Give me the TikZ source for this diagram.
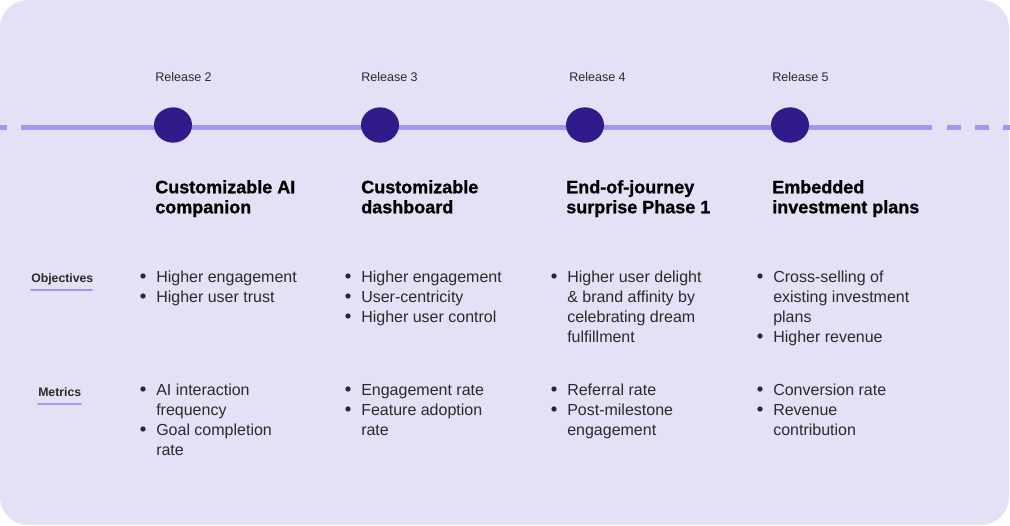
\documentclass[tikz,border=0pt]{standalone}
\usepackage{fontspec}
\setmainfont{Liberation Sans}
\newfontfamily\heavyfont{Liberation Sans Bold}[FakeBold=1]
\usetikzlibrary{shapes.geometric}
\definecolor{bg}{HTML}{E4E1F7}
\definecolor{tl}{HTML}{A596F4}
\definecolor{dotc}{HTML}{311B8A}
\definecolor{txt}{HTML}{2A2A2A}
\begin{document}
\begin{tikzpicture}[x=0.75pt,y=-0.75pt,
  rel/.style={anchor=base west,inner sep=0,font=\fontsize{9.4}{11}\selectfont,text=txt},
  ttl/.style={anchor=north west,inner sep=0,align=left,font=\heavyfont\fontsize{13.5}{15}\selectfont,text=black},
  itm/.style={anchor=north west,inner sep=0,align=left,font=\fontsize{12}{15}\selectfont,text=txt},
  lbl/.style={anchor=base west,inner sep=0,font=\fontsize{9.2}{11}\selectfont\bfseries,text=txt},
  ms/.style={ellipse,fill=dotc,minimum width=28.5pt,minimum height=26.5pt,inner sep=0},
  tline/.style={draw=tl,line width=3.75pt},
  uline/.style={draw=tl,line width=1.5pt,line cap=round},
  bul/.style={fill=txt}]
\useasboundingbox (0,0) rectangle (1010,525);
\fill[bg,rounded corners=21pt] (0,0) rectangle (1009,525);

% timeline
\coordinate (tlA) at (0,127.5);
\coordinate (tlB) at (7,127.5);
\coordinate (tlC) at (21,127.5);
\coordinate (tlD) at (932,127.5);
\coordinate (tlE) at (947,127.5);
\coordinate (tlF) at (961,127.5);
\coordinate (tlG) at (975,127.5);
\coordinate (tlH) at (989,127.5);
\coordinate (tlI) at (1003,127.5);
\coordinate (tlJ) at (1012,127.5);
\draw[tline] (tlA) -- (tlB);
\draw[tline] (tlC) -- (tlD);
\draw[tline] (tlE) -- (tlF);
\draw[tline] (tlG) -- (tlH);
\draw[tline] (tlI) -- (tlJ);

% milestones
\node[ms] (m2) at (173,125) {};
\node[ms] (m3) at (380,125) {};
\node[ms] (m4) at (585,125) {};
\node[ms] (m5) at (790,125) {};

% release labels
\node[rel] (r2) at (155,81) {Release 2};
\node[rel] (r3) at (361,81) {Release 3};
\node[rel] (r4) at (569,81) {Release 4};
\node[rel] (r5) at (772,81) {Release 5};

% titles
\node[ttl] (t2) at (155,179) {\strut Customizable AI\\companion};
\node[ttl] (t3) at (361,179) {\strut Customizable\\dashboard};
\node[ttl] (t4) at (566,179) {\strut End-of-journey\\surprise Phase 1};
\node[ttl] (t5) at (772,179) {\strut Embedded\\investment plans};

% row labels
\node[lbl] (lobj) at (31,282) {Objectives};
\coordinate (uo1) at (31,290);
\coordinate (uo2) at (92,290);
\draw[uline] (uo1) -- (uo2);
\node[lbl] (lmet) at (38,396) {Metrics};
\coordinate (um1) at (38,403.5);
\coordinate (um2) at (81,403.5);
\draw[uline] (um1) -- (um2);

% column 1
\node[itm] (o2a) at (156,268) {\strut Higher engagement};
\node[itm] (o2b) at (156,288) {\strut Higher user trust};
\node[itm] (k2a) at (156,381) {\strut AI interaction\\frequency};
\node[itm] (k2b) at (156,421) {\strut Goal completion\\rate};

% column 2
\node[itm] (o3a) at (361,268) {\strut Higher engagement};
\node[itm] (o3b) at (361,288) {\strut User-centricity};
\node[itm] (o3c) at (361,308) {\strut Higher user control};
\node[itm] (k3a) at (361,381) {\strut Engagement rate};
\node[itm] (k3b) at (361,401) {\strut Feature adoption\\rate};

% column 3
\node[itm] (o4a) at (567,268) {\strut Higher user delight\\\& brand affinity by\\celebrating dream\\fulfillment};
\node[itm] (k4a) at (567,381) {\strut Referral rate};
\node[itm] (k4b) at (567,401) {\strut Post-milestone\\engagement};

% column 4
\node[itm] (o5a) at (773,268) {\strut Cross-selling of\\existing investment\\plans};
\node[itm] (o5b) at (773,328) {\strut Higher revenue};
\node[itm] (k5a) at (773,381) {\strut Conversion rate};
\node[itm] (k5b) at (773,401) {\strut Revenue\\contribution};

% bullets
\foreach \n in {o2a,o2b,k2a,k2b,o3a,o3b,o3c,k3a,k3b,o4a,k4a,k4b,o5a,o5b,k5a,k5b}
  \fill[bul] ([shift={(-13,8)}]\n.north west) circle (2pt);
\end{tikzpicture}
\end{document}
